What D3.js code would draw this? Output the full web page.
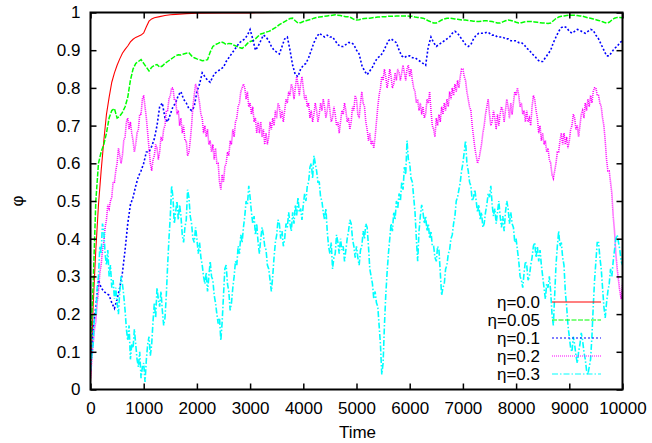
<!DOCTYPE html>
<html>
<head>
<meta charset="utf-8">
<script src="https://cdnjs.cloudflare.com/ajax/libs/d3/7.8.5/d3.min.js"></script>
<style>
  html, body { margin: 0; padding: 0; background: #fff; }
  svg { display: block; }
  text { font-family: "Liberation Sans", Arial, Helvetica, sans-serif; fill: #000; }
</style>
</head>
<body>
<div id="chart"></div>
<script>
// ---------------- data ----------------
const xTicks = [0, 1000, 2000, 3000, 4000, 5000, 6000, 7000, 8000, 9000, 10000];
const yTicks = [0, 0.1, 0.2, 0.3, 0.4, 0.5, 0.6, 0.7, 0.8, 0.9, 1];
const seriesNames = ["η=0.0", "η=0.05", "η=0.1", "η=0.2", "η=0.3"];

// η=0.0 (irregular time samples)
const timeRed = [0,25,50,75,100,150,200,250,300,350,400,450,500,550,600,650,700,750,800,850,900,950,1000,1050,1100,1150,1200,1300,1400,1500,1600,1800,2000,2500,3000,3500,4000,5000,6000,7000,8000,9000,10000];
const eta00 = [0.02,0.12,0.22,0.3,0.37,0.49,0.58,0.66,0.73,0.775,0.815,0.84,0.86,0.877,0.892,0.902,0.911,0.922,0.929,0.934,0.937,0.94,0.946,0.962,0.977,0.983,0.986,0.989,0.992,0.994,0.995,0.997,0.998,0.999,0.999,1,1,1,1,1,1,1,1];

// η=0.05 and η=0.1 sampled every 50 time units
const eta005 = [0.1,0.28,0.5,0.6,0.63,0.65,0.68,0.72,0.74,0.745,0.72,0.725,0.735,0.75,0.775,0.82,0.85,0.865,0.87,0.875,
0.865,0.855,0.845,0.855,0.86,0.862,0.855,0.858,0.865,0.87,0.875,0.88,0.885,0.888,0.887,0.89,0.892,0.893,0.885,0.88,
0.877,0.875,0.872,0.873,0.875,0.895,0.91,0.915,0.918,0.922,0.92,0.915,0.918,0.917,0.913,0.91,0.907,0.905,0.91,0.918,
0.923,0.925,0.93,0.937,0.943,0.945,0.948,0.95,0.953,0.958,0.962,0.968,0.972,0.976,0.98,0.984,0.985,0.978,0.972,0.973,
0.976,0.978,0.98,0.982,0.985,0.987,0.988,0.989,0.99,0.991,0.992,0.993,0.994,0.993,0.992,0.99,0.989,0.989,0.986,0.982,
0.98,0.981,0.983,0.984,0.985,0.985,0.986,0.987,0.988,0.988,0.989,0.989,0.99,0.99,0.99,0.991,0.991,0.991,0.991,0.991,
0.99,0.99,0.988,0.987,0.986,0.985,0.982,0.978,0.975,0.972,0.972,0.976,0.98,0.983,0.985,0.985,0.984,0.983,0.982,0.981,
0.98,0.98,0.979,0.978,0.977,0.976,0.976,0.977,0.978,0.978,0.977,0.976,0.974,0.972,0.972,0.975,0.978,0.98,0.979,0.977,
0.974,0.972,0.973,0.975,0.976,0.976,0.976,0.975,0.974,0.973,0.972,0.972,0.971,0.972,0.978,0.984,0.988,0.99,0.991,0.992,
0.993,0.993,0.993,0.992,0.991,0.99,0.988,0.986,0.985,0.983,0.981,0.979,0.977,0.974,0.972,0.974,0.98,0.985,0.987,0.987,
0.986];

const eta01 = [0.05,0.16,0.22,0.29,0.27,0.26,0.255,0.25,0.23,0.215,0.24,0.27,0.31,0.37,0.44,0.49,0.51,0.54,0.565,0.58,
0.6,0.63,0.63,0.645,0.665,0.7,0.75,0.76,0.72,0.71,0.73,0.75,0.76,0.78,0.79,0.77,0.76,0.745,0.74,0.75,
0.79,0.81,0.84,0.83,0.82,0.815,0.83,0.84,0.845,0.85,0.855,0.87,0.88,0.89,0.9,0.91,0.92,0.925,0.93,0.94,
0.955,0.93,0.9,0.91,0.925,0.94,0.935,0.925,0.91,0.9,0.895,0.89,0.91,0.93,0.935,0.9,0.86,0.835,0.83,0.85,
0.86,0.865,0.88,0.9,0.92,0.935,0.945,0.94,0.935,0.94,0.935,0.935,0.925,0.915,0.91,0.91,0.915,0.92,0.92,0.915,
0.9,0.89,0.86,0.845,0.835,0.845,0.855,0.87,0.88,0.885,0.895,0.91,0.925,0.93,0.925,0.92,0.9,0.885,0.88,0.885,
0.885,0.88,0.88,0.875,0.87,0.865,0.86,0.91,0.935,0.92,0.91,0.915,0.92,0.925,0.93,0.935,0.945,0.95,0.945,0.935,
0.925,0.915,0.91,0.915,0.93,0.94,0.945,0.945,0.945,0.948,0.945,0.94,0.94,0.935,0.935,0.935,0.93,0.93,0.925,0.925,
0.925,0.92,0.92,0.915,0.905,0.9,0.89,0.885,0.875,0.87,0.87,0.88,0.89,0.9,0.92,0.935,0.95,0.96,0.963,0.96,
0.95,0.945,0.95,0.955,0.953,0.948,0.945,0.95,0.955,0.953,0.94,0.93,0.915,0.9,0.885,0.885,0.895,0.905,0.91,0.92,
0.925];

// η=0.2 and η=0.3 sampled every 25 time units
const eta02 = [0.03,0.08,0.12,0.16, 0.18,0.23,0.26,0.31, 0.33,0.37,0.39,0.43, 0.45,0.49,0.48,0.5, 0.51,0.55,0.55,0.58,
0.6,0.64,0.62,0.6, 0.62,0.66,0.67,0.71, 0.72,0.69,0.71,0.68, 0.66,0.63,0.65,0.68, 0.69,0.73,0.73,0.77,
0.78,0.75,0.72,0.68, 0.64,0.6,0.58,0.61, 0.62,0.65,0.64,0.61, 0.63,0.67,0.66,0.69, 0.7,0.74,0.74,0.77,
0.78,0.8,0.8,0.77, 0.77,0.73,0.74,0.7, 0.72,0.68,0.7,0.66, 0.66,0.62,0.63,0.66, 0.7,0.75,0.78,0.81,
0.8,0.78,0.76,0.73, 0.72,0.68,0.7,0.67, 0.69,0.65,0.66,0.63, 0.65,0.61,0.64,0.6, 0.6,0.55,0.53,0.57,
0.55,0.59,0.6,0.63, 0.62,0.66,0.65,0.69, 0.67,0.71,0.72,0.75, 0.76,0.79,0.8,0.81, 0.8,0.77,0.79,0.75,
0.76,0.73,0.75,0.71, 0.72,0.68,0.71,0.68, 0.71,0.67,0.69,0.65, 0.68,0.65,0.67,0.71, 0.69,0.72,0.7,0.74,
0.72,0.76,0.75,0.72, 0.74,0.71,0.74,0.77, 0.76,0.79,0.78,0.81, 0.8,0.77,0.8,0.83, 0.81,0.78,0.81,0.83,
0.8,0.77,0.78,0.75, 0.76,0.72,0.74,0.71, 0.73,0.76,0.74,0.71, 0.73,0.76,0.74,0.77, 0.75,0.72,0.74,0.77,
0.74,0.71,0.72,0.75, 0.73,0.7,0.71,0.68, 0.71,0.74,0.73,0.76, 0.74,0.71,0.72,0.69, 0.71,0.75,0.74,0.78,
0.77,0.73,0.72,0.76, 0.79,0.76,0.75,0.71, 0.69,0.66,0.68,0.65, 0.66,0.64,0.67,0.71, 0.75,0.78,0.8,0.83,
0.82,0.85,0.83,0.8, 0.82,0.85,0.83,0.8, 0.81,0.84,0.82,0.85, 0.84,0.82,0.84,0.86, 0.84,0.82,0.85,0.86,
0.83,0.85,0.82,0.8, 0.79,0.76,0.77,0.74, 0.76,0.73,0.75,0.72, 0.73,0.77,0.76,0.79, 0.74,0.7,0.69,0.67,
0.72,0.7,0.73,0.71, 0.75,0.73,0.76,0.74, 0.77,0.75,0.79,0.77, 0.8,0.78,0.81,0.79, 0.82,0.8,0.83,0.85,
0.85,0.83,0.82,0.79, 0.77,0.75,0.74,0.7, 0.67,0.64,0.62,0.6, 0.61,0.63,0.65,0.68, 0.7,0.73,0.75,0.77,
0.73,0.7,0.71,0.74, 0.72,0.69,0.73,0.7, 0.73,0.75,0.74,0.71, 0.74,0.77,0.75,0.72, 0.76,0.73,0.76,0.79,
0.78,0.8,0.78,0.75, 0.76,0.73,0.74,0.71, 0.74,0.71,0.72,0.7, 0.75,0.78,0.77,0.74, 0.72,0.68,0.7,0.66,
0.68,0.65,0.66,0.63, 0.64,0.61,0.6,0.57, 0.56,0.58,0.6,0.63, 0.63,0.66,0.68,0.65, 0.68,0.65,0.67,0.64,
0.66,0.69,0.7,0.73, 0.72,0.69,0.7,0.67, 0.7,0.73,0.74,0.72, 0.76,0.74,0.77,0.75, 0.78,0.76,0.79,0.8,
0.8,0.78,0.78,0.76, 0.75,0.72,0.7,0.66, 0.61,0.58,0.58,0.55, 0.52,0.46,0.42,0.36, 0.32,0.29,0.26,0.24,
0.28];

const eta03 = [0.05,0.09,0.12,0.2, 0.2,0.27,0.3,0.38, 0.36,0.44,0.42,0.36, 0.33,0.37,0.3,0.33, 0.27,0.29,0.24,0.27,
0.23,0.2,0.26,0.3, 0.28,0.25,0.21,0.16, 0.13,0.17,0.08,0.12, 0.11,0.16,0.12,0.08, 0.06,0.1,0.03,0.06,
0.07,0.02,0.08,0.12, 0.14,0.09,0.12,0.18, 0.23,0.19,0.27,0.24, 0.22,0.26,0.21,0.17, 0.19,0.25,0.33,0.4,
0.46,0.54,0.51,0.44, 0.47,0.5,0.45,0.49, 0.46,0.41,0.39,0.43, 0.45,0.53,0.51,0.46, 0.44,0.4,0.39,0.43,
0.4,0.36,0.39,0.35, 0.33,0.3,0.28,0.31, 0.26,0.3,0.34,0.3, 0.29,0.25,0.23,0.2, 0.175,0.19,0.13,0.18,
0.25,0.32,0.33,0.28, 0.26,0.21,0.23,0.27, 0.3,0.34,0.33,0.38, 0.36,0.41,0.39,0.43, 0.46,0.5,0.49,0.54,
0.51,0.47,0.44,0.46, 0.41,0.44,0.39,0.36, 0.4,0.43,0.41,0.38, 0.37,0.33,0.32,0.29, 0.26,0.3,0.35,0.39,
0.41,0.45,0.44,0.4, 0.42,0.38,0.4,0.44, 0.43,0.47,0.44,0.42, 0.47,0.44,0.49,0.46, 0.51,0.47,0.48,0.45,
0.49,0.52,0.5,0.54, 0.55,0.59,0.6,0.56, 0.62,0.6,0.58,0.55, 0.55,0.51,0.5,0.47, 0.45,0.48,0.42,0.38,
0.36,0.39,0.32,0.35, 0.36,0.41,0.39,0.36, 0.4,0.37,0.38,0.34, 0.37,0.4,0.42,0.45, 0.44,0.4,0.38,0.35,
0.38,0.35,0.33,0.37, 0.38,0.42,0.4,0.44, 0.43,0.38,0.32,0.3, 0.28,0.24,0.26,0.23, 0.22,0.17,0.12,0.04,
0.07,0.17,0.25,0.31, 0.36,0.4,0.44,0.42, 0.47,0.45,0.5,0.48, 0.52,0.5,0.55,0.53, 0.59,0.57,0.66,0.61,
0.6,0.56,0.55,0.51, 0.47,0.4,0.34,0.42, 0.46,0.49,0.47,0.44, 0.46,0.42,0.44,0.4, 0.42,0.38,0.38,0.35,
0.34,0.38,0.37,0.31, 0.25,0.27,0.28,0.32, 0.33,0.36,0.37,0.4, 0.41,0.44,0.46,0.5, 0.51,0.53,0.55,0.58,
0.6,0.63,0.66,0.6, 0.58,0.55,0.54,0.5, 0.51,0.53,0.5,0.47, 0.49,0.45,0.47,0.43, 0.44,0.47,0.49,0.52,
0.51,0.54,0.49,0.46, 0.48,0.44,0.47,0.5, 0.46,0.43,0.46,0.42, 0.47,0.5,0.48,0.44, 0.47,0.44,0.43,0.39,
0.4,0.37,0.34,0.3, 0.29,0.27,0.31,0.34, 0.33,0.29,0.3,0.33, 0.35,0.38,0.39,0.35, 0.38,0.34,0.37,0.33,
0.3,0.27,0.24,0.28, 0.27,0.3,0.26,0.2, 0.17,0.25,0.33,0.38, 0.42,0.38,0.39,0.35, 0.33,0.26,0.22,0.17,
0.14,0.11,0.1,0.14, 0.12,0.09,0.07,0.1, 0.12,0.15,0.13,0.1, 0.08,0.05,0.04,0.06, 0.08,0.14,0.22,0.29,
0.34,0.39,0.39,0.35, 0.32,0.27,0.22,0.19, 0.23,0.26,0.28,0.32, 0.3,0.34,0.37,0.4, 0.41,0.39,0.37,0.34,
0.33];

// ---------------- layout ----------------
const W = 652, H = 443;
const plot = { left: 90.5, right: 622.5, top: 12.5, bottom: 389.5 };

const x = d3.scaleLinear().domain([0, 10000]).range([plot.left, plot.right]);
const y = d3.scaleLinear().domain([0, 1]).range([plot.bottom, plot.top]);

const svg = d3.select("#chart").append("svg").attr("width", W).attr("height", H);

const timesOf = (arr, step) => arr.map((_, i) => i * step);

const series = [
  { name: seriesNames[0], t: timeRed, v: eta00, color: "#ff0000", dash: null, w: 1.1 },
  { name: seriesNames[1], t: timesOf(eta005, 50), v: eta005, color: "#00ff00", dash: "5,1.5", w: 1.5 },
  { name: seriesNames[2], t: timesOf(eta01, 50), v: eta01, color: "#0000ff", dash: "2,2", w: 1.6 },
  { name: seriesNames[3], t: timesOf(eta02, 25), v: eta02, color: "#ff00ff", dash: "1,1", w: 1.6 },
  { name: seriesNames[4], t: timesOf(eta03, 25), v: eta03, color: "#00ffff", dash: "6,2,1.5,2", w: 1.6 }
];

const line = d3.line().x(d => x(d[0])).y(d => y(d[1]));

svg.append("clipPath").attr("id", "clip").append("rect")
  .attr("x", plot.left).attr("y", plot.top - 1)
  .attr("width", plot.right - plot.left).attr("height", plot.bottom - plot.top + 1);

const gLines = svg.append("g").attr("clip-path", "url(#clip)");
series.forEach(s => {
  const pts = s.t.map((t, i) => [t, s.v[i]]);
  gLines.append("path")
    .attr("d", line(pts))
    .attr("fill", "none")
    .attr("stroke", s.color)
    .attr("stroke-width", s.w)
    .attr("stroke-dasharray", s.dash);
});

// ---------------- axes (gnuplot style, mirrored inward ticks) ----------------
const tickLen = 6;
const axisBottom = d3.axisBottom(x).tickValues(xTicks).tickSize(-tickLen).tickPadding(12).tickFormat(d3.format("d"));
const axisTop = d3.axisTop(x).tickValues(xTicks).tickSize(-tickLen).tickFormat("");
const axisLeft = d3.axisLeft(y).tickValues(yTicks).tickSize(-tickLen).tickPadding(10).tickFormat(d => d === 0 || d === 1 ? String(d) : d3.format(".1f")(d));
const axisRight = d3.axisRight(y).tickValues(yTicks).tickSize(-tickLen).tickFormat("");

function style(g) {
  g.select(".domain").remove();
  g.selectAll(".tick line").attr("stroke", "#000").attr("stroke-width", 1.5);
  g.selectAll(".tick text").attr("font-size", 17).attr("font-family", "Liberation Sans, Arial, sans-serif").attr("fill", "#111");
}

svg.append("g").attr("transform", `translate(0,${plot.bottom})`).call(axisBottom).call(style);
svg.append("g").attr("transform", `translate(0,${plot.top})`).call(axisTop).call(style);
svg.append("g").attr("transform", `translate(${plot.left},0)`).call(axisLeft).call(style);
svg.append("g").attr("transform", `translate(${plot.right},0)`).call(axisRight).call(style);

// Frame
svg.append("rect")
  .attr("x", plot.left).attr("y", plot.top)
  .attr("width", plot.right - plot.left).attr("height", plot.bottom - plot.top)
  .attr("fill", "none").attr("stroke", "#000").attr("stroke-width", 2);

// Axis labels
svg.append("text").attr("x", (plot.left + plot.right) / 2 + 1).attr("y", 438)
  .attr("text-anchor", "middle").attr("font-size", 17).text("Time");
svg.append("text").attr("transform", "translate(17,201) rotate(-90)")
  .attr("text-anchor", "middle").attr("dominant-baseline", "central").attr("font-size", 17).text("φ");

// ---------------- legend ----------------
const legend = svg.append("g");
series.forEach((s, i) => {
  const yy = 302 + i * 18;
  legend.append("text").attr("x", 540).attr("y", yy).attr("text-anchor", "end")
    .attr("dominant-baseline", "central").attr("font-size", 17).text(s.name);
  legend.append("line").attr("x1", 552).attr("x2", 601).attr("y1", yy).attr("y2", yy)
    .attr("stroke", s.color).attr("stroke-width", 1.1).attr("stroke-dasharray", s.dash);
});
</script>
</body>
</html>
